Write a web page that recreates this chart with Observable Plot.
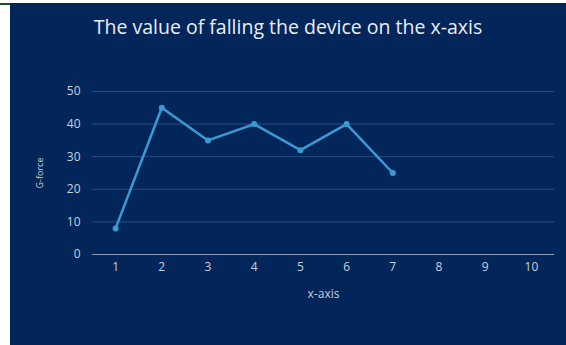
<!DOCTYPE html>
<html>
<head>
<meta charset="utf-8">
<script src="https://cdn.jsdelivr.net/npm/d3@7"></script>
<script src="https://cdn.jsdelivr.net/npm/@observablehq/plot@0.6"></script>
<style>
  html, body { margin: 0; padding: 0; background: #ffffff; }
  body { width: 566px; height: 345px; position: relative; overflow: hidden; font-family: "Open Sans", sans-serif; }
  #edge { position: absolute; left: 0; top: 3px; width: 10px; height: 1.5px; background: #1f4a1a; }
  #panel { position: absolute; left: 10px; top: 3px; width: 556px; height: 342px; background: #03265a; }
  #title { position: absolute; left: 0; top: 10px; width: 556px; text-align: center; color: #e9edf3; font-size: 19.5px; }
  #chart { position: absolute; left: 0; top: 44px; }
</style>
</head>
<body>
<div id="edge"></div>
<div id="panel">
  <div id="title">The value of falling the device on the x-axis</div>
  <div id="chart"></div>
</div>
<script>
// Drop test readings: G-force measured at each step along the x-axis
const steps = [1, 2, 3, 4, 5, 6, 7];
const gforce = [8, 45, 35, 40, 32, 40, 25];
const xTicks = [1, 2, 3, 4, 5, 6, 7, 8, 9, 10];
const yTicks = [0, 10, 20, 30, 40, 50];

const readings = steps.map((s, i) => ({ step: s, g: gforce[i] }));

const lineColor = "#3b9ad3";
const tickColor = "#c9d0dc";

const chart = Plot.plot({
  width: 556,
  height: 298,
  marginLeft: 82,
  marginRight: 12,
  marginTop: 44,
  marginBottom: 91,
  style: { background: "transparent", fontFamily: "'Open Sans', sans-serif", fontSize: "12px", color: tickColor },
  x: { domain: [0.5, 10.5] },
  y: { domain: [0, 50] },
  marks: [
    Plot.gridY(yTicks.filter(d => d > 0), { stroke: "#3a5a8a", strokeOpacity: 0.75, strokeWidth: 1 }),
    Plot.ruleY([0], { stroke: "#8d9bb8", strokeWidth: 1.2 }),
    Plot.axisY({ ticks: yTicks, tickSize: 0, tickPadding: 12, label: null, fill: tickColor }),
    Plot.axisY({ ticks: [], tickSize: 0, label: "G-force", labelAnchor: "center", labelArrow: "none", labelOffset: 56, fontSize: 9, fill: tickColor }),
    Plot.axisX({ ticks: xTicks, tickSize: 0, tickPadding: 8, label: "x-axis", labelAnchor: "center", labelArrow: "none", labelOffset: 43, fill: tickColor }),
    Plot.line(readings, { x: "step", y: "g", stroke: lineColor, strokeWidth: 2.5 }),
    Plot.dot(readings, { x: "step", y: "g", r: 3, fill: lineColor })
  ]
});
document.getElementById("chart").appendChild(chart);
</script>
</body>
</html>
